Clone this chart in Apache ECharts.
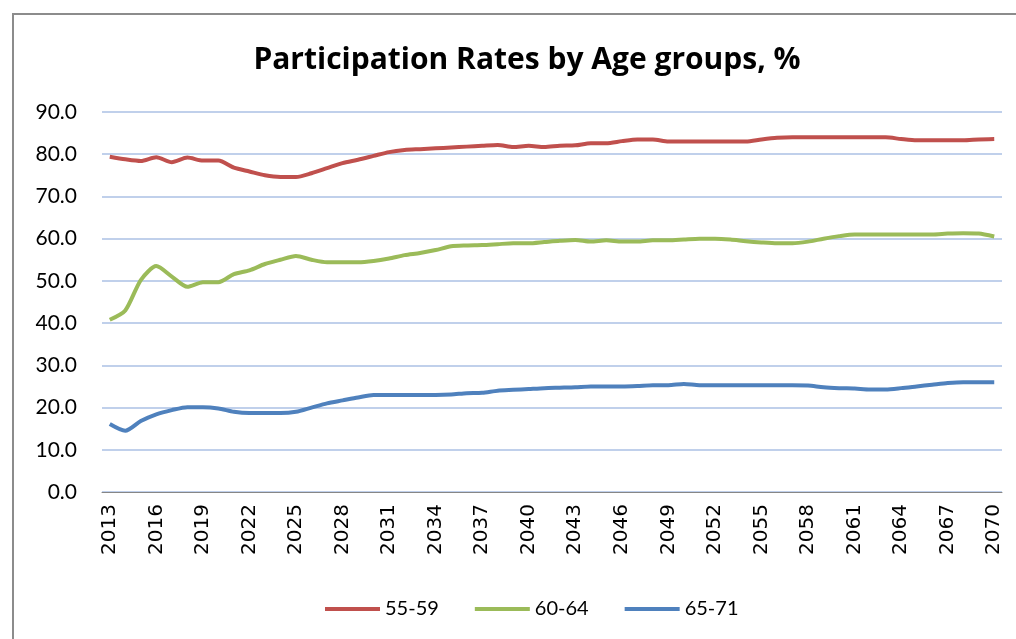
<!DOCTYPE html>
<html>
<head>
<meta charset="utf-8">
<script src="https://cdn.jsdelivr.net/npm/echarts@6/dist/echarts.min.js"></script>
<style>
  html, body { margin: 0; padding: 0; background: #fff; overflow: hidden; }
  #frame { position: absolute; left: 12px; top: 13px; width: 1100px; height: 700px; border: 2px solid #8c8c8c; box-sizing: border-box; }
  #main { position: absolute; left: 0; top: 0; width: 1016px; height: 639px; }
</style>
</head>
<body>
<div id="frame"></div>
<div id="main"></div>
<script>
var years = ['2013','2014','2015','2016','2017','2018','2019','2020','2021','2022',
  '2023','2024','2025','2026','2027','2028','2029','2030','2031','2032',
  '2033','2034','2035','2036','2037','2038','2039','2040','2041','2042',
  '2043','2044','2045','2046','2047','2048','2049','2050','2051','2052',
  '2053','2054','2055','2056','2057','2058','2059','2060','2061','2062',
  '2063','2064','2065','2066','2067','2068','2069','2070'];

var age5559 = [79.4, 78.8, 78.4, 79.3, 78.1, 79.2, 78.5, 78.5, 76.8, 75.9,
  75.0, 74.6, 74.6, 75.5, 76.7, 77.9, 78.7, 79.6, 80.5, 81.0,
  81.2, 81.4, 81.6, 81.8, 82.0, 82.2, 81.7, 82.0, 81.7, 82.0,
  82.1, 82.6, 82.6, 83.1, 83.5, 83.5, 83.0, 83.0, 83.0, 83.0,
  83.0, 83.0, 83.5, 83.9, 84.0, 84.0, 84.0, 84.0, 84.0, 84.0,
  84.0, 83.6, 83.3, 83.3, 83.3, 83.3, 83.5, 83.6];

var age6064 = [40.8, 43.0, 50.2, 53.5, 51.0, 48.6, 49.7, 49.7, 51.6, 52.5,
  54.0, 55.0, 55.9, 55.0, 54.4, 54.4, 54.4, 54.7, 55.3, 56.1,
  56.6, 57.3, 58.2, 58.4, 58.5, 58.7, 58.9, 58.9, 59.2, 59.5,
  59.7, 59.3, 59.6, 59.3, 59.3, 59.6, 59.6, 59.8, 60.0, 60.0,
  59.8, 59.4, 59.1, 58.9, 58.9, 59.3, 60.0, 60.6, 61.0, 61.0,
  61.0, 61.0, 61.0, 61.0, 61.2, 61.3, 61.2, 60.5];

var age6571 = [16.1, 14.5, 16.8, 18.4, 19.4, 20.1, 20.1, 19.8, 19.0, 18.7,
  18.7, 18.7, 19.0, 20.0, 21.0, 21.7, 22.4, 23.0, 23.0, 23.0,
  23.0, 23.0, 23.1, 23.4, 23.5, 24.0, 24.2, 24.4, 24.6, 24.7,
  24.8, 25.0, 25.0, 25.0, 25.1, 25.3, 25.3, 25.6, 25.3, 25.3,
  25.3, 25.3, 25.3, 25.3, 25.3, 25.2, 24.8, 24.6, 24.5, 24.3,
  24.3, 24.6, 25.0, 25.4, 25.8, 26.0, 26.0, 26.0];

var seriesNames = ['55-59', '60-64', '65-71'];
var seriesColors = ['#C0504D', '#9BBB59', '#4F81BD'];

var myChart = echarts.init(document.getElementById('main'));

function lineSeries(name, data, color) {
  return {
    name: name,
    type: 'line',
    data: data,
    smooth: 0.25,
    showSymbol: false,
    symbol: 'none',
    lineStyle: { color: color, width: 4 },
    itemStyle: { color: color }
  };
}

var option = {
  animation: false,
  title: {
    text: 'Participation Rates by Age groups, %',
    left: 522,
    top: 40,
    textAlign: 'center',
    textStyle: { fontFamily: 'Open Sans', fontWeight: 'bold', fontSize: 30, color: '#000' }
  },
  legend: {
    data: seriesNames,
    left: 320,
    top: 594,
    icon: 'rect',
    itemWidth: 55,
    itemHeight: 4,
    itemGap: 36,
    textStyle: { fontFamily: 'Lato', fontSize: 20, color: '#000' }
  },
  grid: {
    left: 102,
    right: 14,
    top: 112,
    bottom: 147
  },
  xAxis: {
    type: 'category',
    data: years,
    boundaryGap: true,
    axisLine: { lineStyle: { color: '#868686', width: 1 } },
    axisTick: { show: false },
    axisLabel: {
      interval: 2,
      rotate: 90,
      margin: 12,
      fontFamily: 'DejaVu Sans',
      fontSize: 20,
      color: '#000'
    }
  },
  yAxis: {
    type: 'value',
    min: 0,
    max: 90,
    interval: 10,
    axisLine: { show: false },
    axisTick: { show: false },
    splitLine: { lineStyle: { color: '#ABC1E5', width: 1.5 } },
    axisLabel: {
      margin: 25,
      fontFamily: 'Lato',
      fontSize: 21,
      color: '#000',
      formatter: function (v) { return v.toFixed(1); }
    }
  },
  series: [
    lineSeries(seriesNames[0], age5559, seriesColors[0]),
    lineSeries(seriesNames[1], age6064, seriesColors[1]),
    lineSeries(seriesNames[2], age6571, seriesColors[2])
  ]
};

myChart.setOption(option);
</script>
</body>
</html>
